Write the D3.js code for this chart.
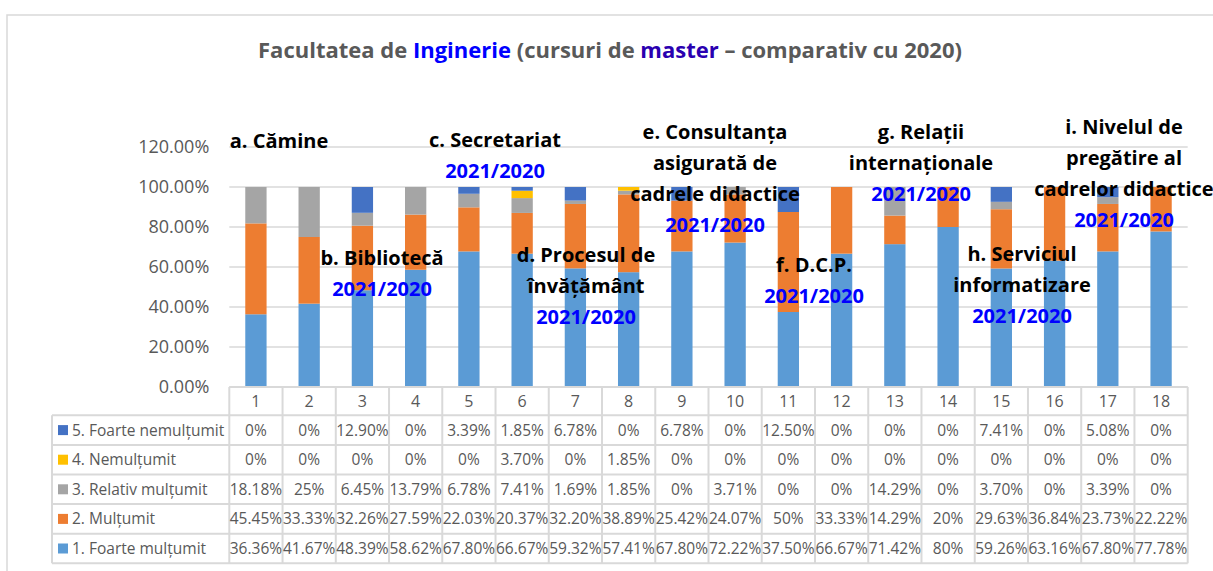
<!DOCTYPE html>
<html>
<head>
<meta charset="utf-8">
<script src="https://cdn.jsdelivr.net/npm/d3@7"></script>
<style>
  html, body { margin: 0; padding: 0; background: #fff; }
  svg { display: block; }
</style>
</head>
<body>
<div id="chart"></div>
<script>
// categories and series (values in %)
const categories = ['1','2','3','4','5','6','7','8','9','10','11','12','13','14','15','16','17','18'];
const seriesNames = ['1. Foarte mulțumit', '2. Mulțumit', '3. Relativ mulțumit', '4. Nemulțumit', '5. Foarte nemulțumit'];
const foarteMultumit = [36.36, 41.67, 48.39, 58.62, 67.80, 66.67, 59.32, 57.41, 67.80, 72.22, 37.50, 66.67, 71.42, 80, 59.26, 63.16, 67.80, 77.78];
const multumit = [45.45, 33.33, 32.26, 27.59, 22.03, 20.37, 32.20, 38.89, 25.42, 24.07, 50, 33.33, 14.29, 20, 29.63, 36.84, 23.73, 22.22];
const relativMultumit = [18.18, 25, 6.45, 13.79, 6.78, 7.41, 1.69, 1.85, 0, 3.71, 0, 0, 14.29, 0, 3.70, 0, 3.39, 0];
const nemultumit = [0, 0, 0, 0, 0, 3.70, 0, 1.85, 0, 0, 0, 0, 0, 0, 0, 0, 0, 0];
const foarteNemultumit = [0, 0, 12.90, 0, 3.39, 1.85, 6.78, 0, 6.78, 0, 12.50, 0, 0, 0, 7.41, 0, 5.08, 0];
const yTicks = [0, 20, 40, 60, 80, 100, 120];

// section labels written over the bars
const sectionLabels = [
  ['a. Cămine'],
  ['b. Bibliotecă'],
  ['c. Secretariat'],
  ['d. Procesul de', 'învățământ'],
  ['e. Consultanța', 'asigurată de', 'cadrele didactice'],
  ['f. D.C.P.'],
  ['g. Relații', 'internaționale'],
  ['h. Serviciul', 'informatizare'],
  ['i. Nivelul de', 'pregătire al', 'cadrelor didactice']
];
const yearLabel = '2021/2020';

const seriesValues = [foarteMultumit, multumit, relativMultumit, nemultumit, foarteNemultumit];
const colors = ['#5B9BD5', '#ED7D31', '#A5A5A5', '#FFC000', '#4472C4'];

const FONT = "'Open Sans', sans-serif";
const W = 1213, H = 571;
const margin = { left: 229.3, right: 25.3, top: 147, bottom: 184 };
const plotW = W - margin.left - margin.right;
const plotH = H - margin.top - margin.bottom;
const rowH = 29.6;

// label anchors: x center, y of first line, with year label (true) or not
const labelPos = [
  { x: 279, y: 141, year: false },
  { x: 382, y: 258, year: true },
  { x: 495, y: 140, year: true },
  { x: 586, y: 255, year: true },
  { x: 715, y: 132, year: true },
  { x: 814, y: 265, year: true },
  { x: 921, y: 132, year: true },
  { x: 1022, y: 254, year: true },
  { x: 1124, y: 127, year: true }
];

const svg = d3.select('#chart').append('svg')
  .attr('width', W)
  .attr('height', H)
  .style('font-family', FONT);

// outer frame
svg.append('rect')
  .attr('x', 7).attr('y', 15)
  .attr('width', W + 20).attr('height', H + 20)
  .attr('fill', 'none')
  .attr('stroke', '#D9D9D9')
  .attr('stroke-width', 1.5);

// title
const title = svg.append('text')
  .attr('x', 610).attr('y', 58)
  .attr('text-anchor', 'middle')
  .attr('font-size', 22)
  .attr('font-weight', 'bold')
  .attr('fill', '#595959');
title.append('tspan').text('Facultatea de ');
title.append('tspan').attr('fill', '#0000FF').text('Inginerie');
title.append('tspan').text(' (cursuri de ');
title.append('tspan').attr('fill', '#2A00B0').text('master');
title.append('tspan').text(' – comparativ cu 2020)');

const g = svg.append('g')
  .attr('transform', `translate(${margin.left},${margin.top})`);

const x = d3.scaleBand()
  .domain(categories)
  .range([0, plotW])
  .paddingInner(0.6)
  .paddingOuter(0.3);

const col = d3.scaleBand()
  .domain(categories)
  .range([0, plotW]);

const y = d3.scaleLinear()
  .domain([0, 120])
  .range([plotH, 0]);

// gridlines
g.append('g')
  .selectAll('line')
  .data(yTicks)
  .join('line')
  .attr('x1', 0).attr('x2', plotW)
  .attr('y1', d => y(d)).attr('y2', d => y(d))
  .attr('stroke', '#D9D9D9')
  .attr('stroke-width', 1.3);

// y axis labels
const yAxis = g.append('g')
  .call(d3.axisLeft(y).tickValues(yTicks).tickSize(0).tickPadding(20).tickFormat(d => d.toFixed(2) + '%'));
yAxis.select('.domain').remove();
yAxis.selectAll('text')
  .attr('font-family', FONT)
  .attr('font-size', 18)
  .attr('fill', '#595959');

// stacked bars
const rows = categories.map((c, i) => {
  const r = { cat: c };
  seriesNames.forEach((s, k) => { r[s] = seriesValues[k][i]; });
  return r;
});
const stack = d3.stack().keys(seriesNames)(rows);

g.append('g')
  .selectAll('g')
  .data(stack)
  .join('g')
  .attr('fill', (d, i) => colors[i])
  .selectAll('rect')
  .data(d => d)
  .join('rect')
  .attr('x', d => x(d.data.cat))
  .attr('width', x.bandwidth())
  .attr('y', d => y(d[1]))
  .attr('height', d => y(d[0]) - y(d[1]));

// data table
const table = g.append('g').attr('transform', `translate(0,${plotH})`);
const tableTop = 28.3;
const legendLeft = 52 - margin.left;
const lineColor = '#D9D9D9';

// horizontal lines
table.append('line')
  .attr('x1', 0).attr('x2', plotW)
  .attr('y1', 0).attr('y2', 0)
  .attr('stroke', lineColor).attr('stroke-width', 2);
d3.range(6).forEach(k => {
  table.append('line')
    .attr('x1', legendLeft).attr('x2', plotW)
    .attr('y1', tableTop + k * rowH).attr('y2', tableTop + k * rowH)
    .attr('stroke', lineColor).attr('stroke-width', 2);
});
// vertical lines
table.selectAll('line.v')
  .data(d3.range(categories.length + 1))
  .join('line')
  .attr('class', 'v')
  .attr('x1', i => i * col.bandwidth()).attr('x2', i => i * col.bandwidth())
  .attr('y1', 0).attr('y2', tableTop + 5 * rowH)
  .attr('stroke', lineColor).attr('stroke-width', 2);
table.append('line')
  .attr('x1', legendLeft).attr('x2', legendLeft)
  .attr('y1', tableTop).attr('y2', tableTop + 5 * rowH)
  .attr('stroke', lineColor).attr('stroke-width', 2);

// category labels
table.selectAll('text.cat')
  .data(categories)
  .join('text')
  .attr('class', 'cat')
  .attr('x', d => col(d) + col.bandwidth() / 2)
  .attr('y', tableTop / 2)
  .attr('dy', '0.35em')
  .attr('text-anchor', 'middle')
  .attr('font-size', 16)
  .attr('fill', '#595959')
  .text(d => d);

const fmt = v => (Number.isInteger(v) ? v : v.toFixed(2)) + '%';
const order = [4, 3, 2, 1, 0];
order.forEach((k, r) => {
  const cy = tableTop + r * rowH + rowH / 2;
  table.append('rect')
    .attr('x', legendLeft + 6).attr('y', cy - 5)
    .attr('width', 10).attr('height', 10)
    .attr('fill', colors[k]);
  table.append('text')
    .attr('x', legendLeft + 20).attr('y', cy)
    .attr('dy', '0.35em')
    .attr('font-size', 15.5)
    .attr('fill', '#595959')
    .text(seriesNames[k]);
  table.selectAll(null)
    .data(seriesValues[k])
    .join('text')
    .attr('x', (d, i) => col(categories[i]) + col.bandwidth() / 2)
    .attr('y', cy)
    .attr('dy', '0.35em')
    .attr('text-anchor', 'middle')
    .attr('font-size', 15.5)
    .attr('fill', '#595959')
    .text(fmt);
});

// section labels
const lineStep = 31;
sectionLabels.forEach((lines, i) => {
  const p = labelPos[i];
  const all = p.year ? lines.concat([yearLabel]) : lines;
  all.forEach((t, j) => {
    svg.append('text')
      .attr('x', p.x)
      .attr('y', p.y + j * lineStep)
      .attr('dy', '0.35em')
      .attr('text-anchor', 'middle')
      .attr('font-size', 20)
      .attr('font-weight', 'bold')
      .attr('fill', t === yearLabel ? '#0000FF' : '#000000')
      .text(t);
  });
});
</script>
</body>
</html>
